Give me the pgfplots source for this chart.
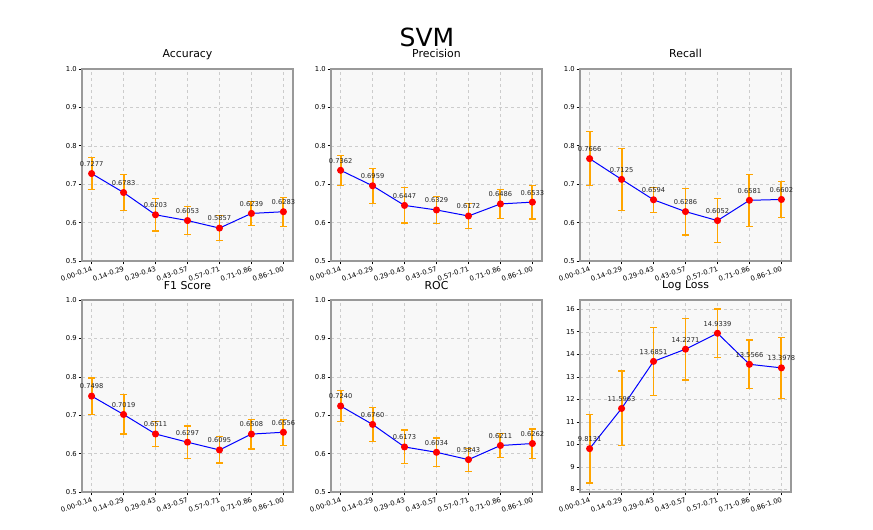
\documentclass[border=0pt]{standalone}
\usepackage{pgfplots}
\usepackage{pgfplotstable}
\pgfplotsset{compat=1.18}
\usepackage{fontspec}
\setmainfont{DejaVu Sans}
\definecolor{bgc}{HTML}{F8F8F8}
\definecolor{gridc}{HTML}{CCCCCC}
\definecolor{spinec}{HTML}{999999}
\definecolor{errc}{HTML}{FFA500}
\definecolor{linec}{HTML}{0000FF}
\definecolor{markc}{HTML}{FF0000}

\pgfplotstableread{
x y lab
0 0.7277 0.7277
1 0.6783 0.6783
2 0.6203 0.6203
3 0.6053 0.6053
4 0.5857 0.5857
5 0.6239 0.6239
6 0.6283 0.6283
}\tabacc
\pgfplotstableread{
x y lab
0 0.7362 0.7362
1 0.6959 0.6959
2 0.6447 0.6447
3 0.6329 0.6329
4 0.6172 0.6172
5 0.6486 0.6486
6 0.6533 0.6533
}\tabprec
\pgfplotstableread{
x y lab
0 0.7666 0.7666
1 0.7125 0.7125
2 0.6594 0.6594
3 0.6286 0.6286
4 0.6052 0.6052
5 0.6581 0.6581
6 0.6602 0.6602
}\tabrec
\pgfplotstableread{
x y lab
0 0.7498 0.7498
1 0.7019 0.7019
2 0.6511 0.6511
3 0.6297 0.6297
4 0.6095 0.6095
5 0.6508 0.6508
6 0.6556 0.6556
}\tabfone
\pgfplotstableread{
x y lab
0 0.7240 0.7240
1 0.6760 0.6760
2 0.6173 0.6173
3 0.6034 0.6034
4 0.5843 0.5843
5 0.6211 0.6211
6 0.6262 0.6262
}\tabroc
\pgfplotstableread{
x y lab
0 9.8131 9.8131
1 11.5963 11.5963
2 13.6851 13.6851
3 14.2271 14.2271
4 14.9339 14.9339
5 13.5566 13.5566
6 13.3978 13.3978
}\tabloss

\pgfplotsset{
  panel/.style={
    scale only axis, width=211pt, height=192pt, anchor=south west,
    xmin=-0.3, xmax=6.3, xtick={0,...,6},
    xticklabels={0.00-0.14,0.14-0.29,0.29-0.43,0.43-0.57,0.57-0.71,0.71-0.86,0.86-1.00},
    axis background/.style={fill=bgc},
    grid=major, major grid style={dashed, gridc, line width=0.5pt},
    axis line style={spinec, line width=1.2pt},
    tick align=outside, xtick pos=left, ytick pos=left,
    major tick length=3.5pt, tick style={black, line width=0.6pt},
    /pgf/number format/assume math mode=true,
    ticklabel style={font=\fontsize{6.8}{7.5}\selectfont, text=black},
    xticklabel style={rotate=20, anchor=north east, inner sep=1pt},
    yticklabel style={inner sep=1.5pt},
    title style={at={(0.5,1)}, anchor=base, yshift=5pt, inner sep=0pt, font=\fontsize{10.9}{12}\selectfont},
    unbounded coords=jump,
  },
  unit/.style={ymin=0.5, ymax=1.0, ytick={0.5,0.6,...,1.0},
    yticklabel style={/pgf/number format/.cd, fixed, precision=1, zerofill}},
  errplot/.style={color=errc, line width=1.9pt, mark=-, mark size=3.5pt,
    mark options={line width=1.2pt, solid}, forget plot},
  mainplot/.style={color=linec, line width=1pt, mark=*, mark size=3pt,
    mark options={fill=markc, draw=markc, solid},
    nodes near coords, point meta=explicit symbolic,
    every node near coord/.append style={font=\fontsize{6.7}{7.5}\selectfont, text=black!85, anchor=south, inner sep=0pt, yshift=6.5pt}},
}

\begin{document}
\begin{tikzpicture}
\path[use as bounding box] (0pt,0pt) rectangle (873pt,530pt);
\node[font=\fontsize{25}{30}\selectfont, anchor=base, inner sep=0pt] at (427pt,483pt) {SVM};

\begin{axis}[panel, unit, at={(82pt,269pt)}, title={Accuracy}]
\addplot[errplot] coordinates {(0,0.6857) (0,0.7697) (0,nan) (1,0.6323) (1,0.7243) (1,nan)
 (2,0.5783) (2,0.6623) (2,nan) (3,0.5683) (3,0.6423) (3,nan) (4,0.5537) (4,0.6177) (4,nan)
 (5,0.5929) (5,0.6549) (5,nan) (6,0.5903) (6,0.6663)};
\addplot[mainplot] table[x=x,y=y,meta=lab]{\tabacc};
\end{axis}

\begin{axis}[panel, unit, at={(331pt,269pt)}, title={Precision}]
\addplot[errplot] coordinates {(0,0.6972) (0,0.7752) (0,nan) (1,0.6499) (1,0.7419) (1,nan)
 (2,0.5987) (2,0.6907) (2,nan) (3,0.5969) (3,0.6689) (3,nan) (4,0.5852) (4,0.6492) (4,nan)
 (5,0.6106) (5,0.6866) (5,nan) (6,0.6093) (6,0.6973)};
\addplot[mainplot] table[x=x,y=y,meta=lab]{\tabprec};
\end{axis}

\begin{axis}[panel, unit, at={(580pt,269pt)}, title={Recall}]
\addplot[errplot] coordinates {(0,0.6956) (0,0.8376) (0,nan) (1,0.6325) (1,0.7925) (1,nan)
 (2,0.6264) (2,0.6924) (2,nan) (3,0.5676) (3,0.6896) (3,nan) (4,0.5482) (4,0.6622) (4,nan)
 (5,0.5901) (5,0.7261) (5,nan) (6,0.6132) (6,0.7072)};
\addplot[mainplot] table[x=x,y=y,meta=lab]{\tabrec};
\end{axis}

\begin{axis}[panel, unit, at={(82pt,38pt)}, title={F1 Score}]
\addplot[errplot] coordinates {(0,0.7028) (0,0.7968) (0,nan) (1,0.6509) (1,0.7529) (1,nan)
 (2,0.6191) (2,0.6831) (2,nan) (3,0.5877) (3,0.6717) (3,nan) (4,0.5755) (4,0.6435) (4,nan)
 (5,0.6118) (5,0.6898) (5,nan) (6,0.6216) (6,0.6896)};
\addplot[mainplot] table[x=x,y=y,meta=lab]{\tabfone};
\end{axis}

\begin{axis}[panel, unit, at={(331pt,38pt)}, title={ROC}]
\addplot[errplot] coordinates {(0,0.6830) (0,0.7650) (0,nan) (1,0.6320) (1,0.7200) (1,nan)
 (2,0.5733) (2,0.6613) (2,nan) (3,0.5664) (3,0.6404) (3,nan) (4,0.5543) (4,0.6143) (4,nan)
 (5,0.5901) (5,0.6521) (5,nan) (6,0.5882) (6,0.6642)};
\addplot[mainplot] table[x=x,y=y,meta=lab]{\tabroc};
\end{axis}

\begin{axis}[panel, at={(580pt,38pt)}, title={Log Loss}, ymin=7.89, ymax=16.41, ytick={8,...,16}]
\addplot[errplot] coordinates {(0,8.2931) (0,11.3331) (0,nan) (1,9.9363) (1,13.2563) (1,nan)
 (2,12.1651) (2,15.2051) (2,nan) (3,12.8571) (3,15.5971) (3,nan) (4,13.8539) (4,16.0139) (4,nan)
 (5,12.4766) (5,14.6366) (5,nan) (6,12.0478) (6,14.7478)};
\addplot[mainplot] table[x=x,y=y,meta=lab]{\tabloss};
\end{axis}
\end{tikzpicture}
\end{document}
